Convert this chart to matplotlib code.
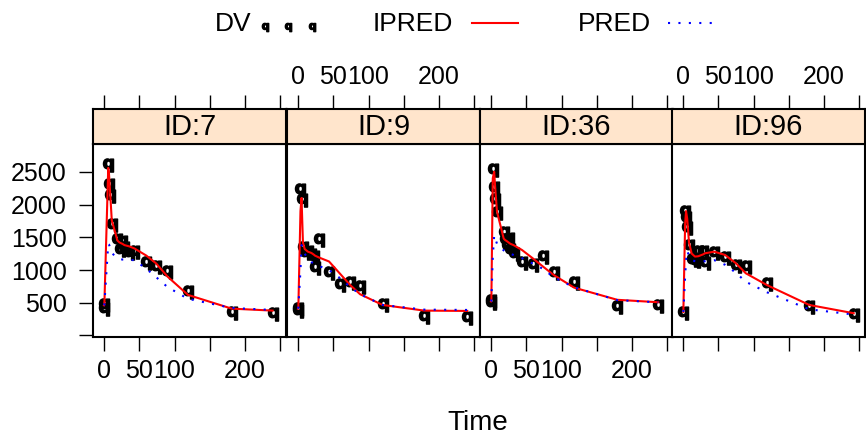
import matplotlib
matplotlib.use('Agg')
import matplotlib.pyplot as plt
from matplotlib.lines import Line2D

plt.rcParams['font.family'] = ['Liberation Sans', 'DejaVu Sans']

# panel ids (lattice strips)
panel_ids = ['ID:7', 'ID:9', 'ID:36', 'ID:96']

# observed concentrations (DV) and predictions per subject
time7 = [0, 0.5, 6, 7, 8.5, 11, 19, 22, 26, 29, 36, 43, 60, 74, 90, 119, 181, 239]
dv7 = [470, 400, 2600, 2300, 2130, 1680, 1460, 1300, 1430, 1330, 1260, 1280, 1100, 1050, 970, 660, 350, 330]
ipred7 = [460, 470, 2560, 2480, 2220, 1760, 1450, 1420, 1400, 1380, 1360, 1330, 1220, 1100, 900, 620, 410, 380]
pred7 = [460, 470, 1400, 1390, 1350, 1260, 1180, 1170, 1160, 1160, 1155, 1150, 1020, 890, 740, 560, 420, 390]

time9 = [0, 0.5, 3.5, 5, 7, 9.5, 14, 19, 23, 24, 30, 44, 59, 74, 88, 120, 179, 240]
dv9 = [410, 380, 2220, 2070, 1330, 1260, 1280, 1230, 1200, 1030, 1460, 950, 770, 800, 745, 470, 280, 265]
ipred9 = [410, 430, 1900, 2100, 1420, 1320, 1280, 1260, 1230, 1220, 1190, 1130, 950, 770, 630, 466, 380, 375]
pred9 = [410, 430, 1000, 1380, 1330, 1250, 1170, 1120, 1100, 1095, 1060, 1000, 880, 740, 630, 466, 395, 390]

time36 = [0, 0.5, 2.5, 4.5, 6, 8.5, 18, 20, 22.5, 25, 27.5, 32, 44, 59, 74, 89, 118, 179, 237]
dv36 = [530, 500, 2530, 2250, 2070, 1870, 1560, 1460, 1360, 1480, 1300, 1250, 1100, 1080, 1200, 950, 800, 440, 455]
ipred36 = [520, 530, 2400, 2500, 2250, 1890, 1480, 1458, 1440, 1420, 1400, 1380, 1305, 1180, 1050, 923, 730, 545, 508]
pred36 = [520, 530, 1200, 1530, 1480, 1400, 1300, 1280, 1270, 1255, 1245, 1230, 1180, 1100, 1015, 890, 735, 540, 507]

time96 = [0.5, 3, 4.3, 6, 8.5, 12.3, 17, 21.7, 28.8, 31, 44.4, 59.6, 74.8, 89, 119, 179, 242]
dv96 = [350, 1890, 1790, 1640, 1360, 1150, 1130, 1280, 1280, 1110, 1260, 1190, 1060, 1050, 790, 430, 313]
ipred96 = [360, 1700, 1900, 1780, 1420, 1250, 1205, 1210, 1240, 1255, 1280, 1230, 1105, 950, 770, 466, 340]
pred96 = [360, 900, 1150, 1290, 1220, 1150, 1135, 1127, 1130, 1135, 1150, 1080, 960, 820, 660, 400, 320]

times = [time7, time9, time36, time96]
dvs = [dv7, dv9, dv36, dv96]
ipreds = [ipred7, ipred9, ipred36, ipred96]
preds = [pred7, pred9, pred36, pred96]

x_ticks = [0, 50, 100, 150, 200, 250]
x_ticklabels = ['0', '50', '100', '', '200', '']
y_ticks = [0, 500, 1000, 1500, 2000, 2500]
y_ticklabels = ['', '500', '1000', '1500', '2000', '2500']

W, H = 866, 436
fig = plt.figure(figsize=(W / 100, H / 100), dpi=100)


def fx(px):
    return px / W


def fy(py):
    return 1 - py / H


panel_left = [93, 287, 480, 672]
panel_w = 193
p_top, p_bot, s_top = 144, 337, 109.5
q_marker = r'$\mathbf{q}$'

for i in range(4):
    ax = fig.add_axes([fx(panel_left[i]), fy(p_bot), panel_w / W, (p_bot - p_top) / H])
    ax.plot(times[i], dvs[i], linestyle='none', marker=q_marker, markersize=9.5,
            color='black', zorder=2)
    ax.plot(times[i], ipreds[i], color='red', linewidth=1.5, zorder=3)
    ax.plot(times[i], preds[i], color='blue', linewidth=1.5,
            linestyle=(0, (1, 4)), zorder=4)
    ax.set_xlim(-15.6, 258)
    ax.set_ylim(-23, 2924)
    ax.set_xticks(x_ticks)
    ax.set_xticklabels(x_ticklabels if i in (0, 2) else [''] * 6)
    ax.tick_params(axis='x', direction='out', length=10, width=1, pad=6,
                   labelsize=18, top=False)
    if i == 0:
        ax.set_yticks(y_ticks)
        ax.set_yticklabels(y_ticklabels)
        ax.tick_params(axis='y', direction='out', length=10, width=1, pad=9,
                       labelsize=18)
    else:
        ax.set_yticks([])
    for sp in ax.spines.values():
        sp.set_linewidth(1.5)

    # strip with top axis
    sx = fig.add_axes([fx(panel_left[i]), fy(p_top), panel_w / W, (p_top - s_top) / H])
    sx.set_facecolor('#ffe5cc')
    sx.set_xlim(-15.6, 258)
    sx.set_ylim(0, 1)
    sx.set_yticks([])
    sx.set_xticks(x_ticks)
    sx.set_xticklabels(x_ticklabels if i in (1, 3) else [''] * 6)
    sx.tick_params(axis='x', direction='out', length=10, width=1, pad=5,
                   labelsize=18, top=True, bottom=False,
                   labeltop=True, labelbottom=False)
    sx.text(0.5, 0.5, panel_ids[i], transform=sx.transAxes, ha='center',
            va='center', fontsize=21)
    for sp in sx.spines.values():
        sp.set_linewidth(1.5)

fig.text(fx(478), fy(423), 'Time', ha='center', va='center', fontsize=20)

# key on top
fig.text(fx(215), fy(24), 'DV', ha='left', va='center', fontsize=19)
fig.add_artist(Line2D([fx(265), fx(288), fx(312)], [fy(27)] * 3, marker=q_marker,
                      markersize=6, linestyle='none', color='black',
                      transform=fig.transFigure))
fig.text(fx(373), fy(24), 'IPRED', ha='left', va='center', fontsize=19)
fig.add_artist(Line2D([fx(472), fx(518)], [fy(23)] * 2, color='red', linewidth=1.5,
                      transform=fig.transFigure))
fig.text(fx(578), fy(24), 'PRED', ha='left', va='center', fontsize=19)
fig.add_artist(Line2D([fx(668), fx(713)], [fy(23)] * 2, color='blue', linewidth=1.5,
                      linestyle=(0, (1, 4)), transform=fig.transFigure))

fig.savefig('out.png', dpi=100)
